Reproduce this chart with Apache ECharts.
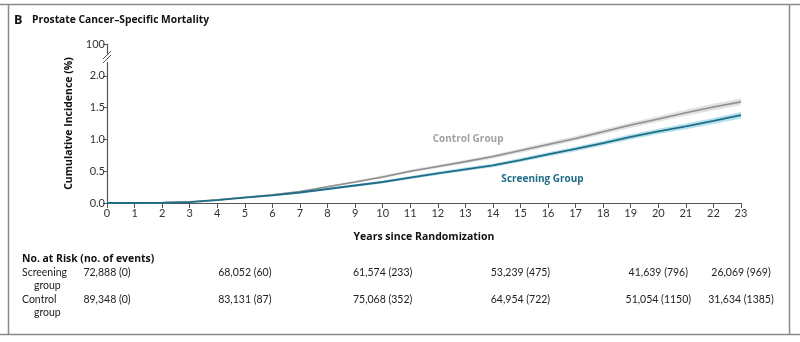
<!DOCTYPE html>
<html><head><meta charset="utf-8">
<script src="https://cdn.jsdelivr.net/npm/echarts@6/dist/echarts.min.js"></script>
<style>html,body{margin:0;padding:0;background:#fff}#c{width:800px;height:342px}</style>
</head><body><div id="c"></div>
<script>
// ---- data ----
const years = [0,1,2,3,4,5,6,7,8,9,10,11,12,13,14,15,16,17,18,19,20,21,22,23];
const controlVals   = [0,0,0.005,0.018,0.05,0.09,0.13,0.18,0.255,0.33,0.41,0.5,0.575,0.65,0.73,0.825,0.92,1.015,1.12,1.225,1.32,1.42,1.51,1.59];
const controlLow    = [0,0,0.003,0.013,0.042,0.08,0.118,0.166,0.238,0.31,0.388,0.476,0.549,0.622,0.7,0.792,0.885,0.978,1.08,1.183,1.276,1.373,1.46,1.535];
const controlHigh   = [0,0,0.007,0.023,0.058,0.1,0.142,0.194,0.272,0.35,0.432,0.524,0.601,0.678,0.76,0.858,0.955,1.052,1.16,1.267,1.364,1.467,1.56,1.645];
const screenVals    = [0,0,0.004,0.015,0.045,0.085,0.12,0.165,0.22,0.275,0.33,0.4,0.465,0.53,0.59,0.675,0.765,0.85,0.94,1.04,1.125,1.205,1.29,1.38];
const screenLow     = [0,0,0.002,0.01,0.037,0.075,0.108,0.151,0.203,0.256,0.309,0.377,0.44,0.503,0.561,0.644,0.732,0.815,0.903,1.0,1.083,1.16,1.242,1.328];
const screenHigh    = [0,0,0.006,0.02,0.053,0.095,0.132,0.179,0.237,0.294,0.351,0.423,0.49,0.557,0.619,0.706,0.798,0.885,0.977,1.08,1.167,1.25,1.338,1.432];
const yTicks = [0, 0.5, 1.0, 1.5, 2.0, 2.5];
const yTickLabels = ['0.0','0.5','1.0','1.5','2.0','100'];
const riskYears = [0,5,10,15,20,23];
const screeningRisk = ['72,888 (0)','68,052 (60)','61,574 (233)','53,239 (475)','41,639 (796)','26,069 (969)'];
const controlRisk   = ['89,348 (0)','83,131 (87)','75,068 (352)','64,954 (722)','51,054 (1150)','31,634 (1385)'];

const FONT = 'Lato';
const BFONT = 'Open Sans';
const pair = (xs, ys) => xs.map((x, i) => [x, ys[i]]);
const triple = (lo, hi) => years.map((x, i) => [x, lo[i], hi[i]]);

function bandSeries(lo, hi, color) {
  return {
    type: 'custom', silent: true, z: 1,
    data: triple(lo, hi),
    encode: {x: 0, y: [1, 2]},
    renderItem: (params, api) => {
      if (params.dataIndex !== 0) return;
      const pts = [];
      for (let i = 0; i < years.length; i++) pts.push(api.coord([years[i], hi[i]]));
      for (let i = years.length - 1; i >= 0; i--) pts.push(api.coord([years[i], lo[i]]));
      return {type: 'polygon', shape: {points: pts}, style: {fill: color}};
    }
  };
}

const chart = echarts.init(document.getElementById('c'), null, {renderer: 'canvas'});
const option = {
  animation: false,
  textStyle: {fontFamily: FONT},
  grid: {left: 107, right: 59, top: 44, bottom: 139, containLabel: false},
  xAxis: {
    type: 'value', min: 0, max: 23, interval: 1,
    name: 'Years since Randomization', nameLocation: 'middle', nameGap: 29,
    nameTextStyle: {fontFamily: BFONT, fontWeight: 'bold', fontSize: 10.5, color: '#111'},
    axisLine: {lineStyle: {color: '#555', width: 1.2}},
    axisTick: {length: 5, lineStyle: {color: '#555'}},
    axisLabel: {fontFamily: FONT, fontSize: 11, color: '#333', margin: 5},
    splitLine: {show: false}
  },
  yAxis: {
    type: 'value', min: 0, max: 2.5, interval: 0.5,
    name: 'Cumulative Incidence (%)', nameLocation: 'middle', nameGap: 32,
    nameTextStyle: {fontFamily: BFONT, fontWeight: 'bold', fontSize: 10.5, color: '#111'},
    axisLine: {show: true, lineStyle: {color: '#555', width: 1.2}},
    axisTick: {show: true, length: 4, lineStyle: {color: '#555'}},
    axisLabel: {fontFamily: FONT, fontSize: 11, color: '#333', margin: 2,
      formatter: v => { const i = yTicks.findIndex(t => Math.abs(t - v) < 1e-9); return i >= 0 ? yTickLabels[i] : ''; }},
    splitLine: {show: false}
  },
  series: [
    bandSeries(controlLow, controlHigh, 'rgba(205,205,205,0.6)'),
    bandSeries(screenLow, screenHigh, 'rgba(150,212,225,0.7)'),
    {type: 'line', name: 'Control Group', z: 3, data: pair(years, controlVals), symbol: 'none', lineStyle: {color: '#8f8f8f', width: 1.6}},
    {type: 'line', name: 'Screening Group', z: 4, data: pair(years, screenVals), symbol: 'none', lineStyle: {color: '#1f6d88', width: 1.8}}
  ]
};
chart.setOption(option);

// ---- decorations & annotations ----
const px = (x, y) => chart.convertToPixel({gridIndex: 0}, [x, y]);
const g = [];
const border = '#8a8a8a';
g.push({type: 'line', shape: {x1: 0, y1: 4.5, x2: 800, y2: 4.5}, style: {stroke: border, lineWidth: 1.5}});
g.push({type: 'line', shape: {x1: 0, y1: 334.5, x2: 800, y2: 334.5}, style: {stroke: border, lineWidth: 1.5}});
g.push({type: 'line', shape: {x1: 8.5, y1: 4.5, x2: 8.5, y2: 334.5}, style: {stroke: border, lineWidth: 1.5}});
g.push({type: 'line', shape: {x1: 789.5, y1: 4.5, x2: 789.5, y2: 334.5}, style: {stroke: border, lineWidth: 1.5}});
g.push({type: 'text', x: 14, y: 20, style: {text: 'B', font: 'bold 12.5px ' + BFONT, fill: '#111', verticalAlign: 'middle'}});
g.push({type: 'text', x: 32, y: 20, style: {text: 'Prostate Cancer\u2013Specific Mortality', font: 'bold 10.3px ' + BFONT, fill: '#111', verticalAlign: 'middle'}});

// axis break marks
const b = px(0, 2.28);
g.push({type: 'rect', shape: {x: b[0] - 2, y: b[1] - 4, width: 4, height: 8}, style: {fill: '#fff'}, z: 100});
g.push({type: 'line', shape: {x1: b[0] - 4, y1: b[1] + 1, x2: b[0] + 4, y2: b[1] - 7}, style: {stroke: '#555', lineWidth: 1}, z: 101});
g.push({type: 'line', shape: {x1: b[0] - 4, y1: b[1] + 5, x2: b[0] + 4, y2: b[1] - 3}, style: {stroke: '#555', lineWidth: 1}, z: 101});

// curve labels
const cl = px(13.1, 1.01);
g.push({type: 'text', x: cl[0], y: cl[1], style: {text: 'Control Group', font: 'bold 10px ' + BFONT, fill: '#a3a3a3', align: 'center', verticalAlign: 'middle'}});
const sl = px(15.8, 0.38);
g.push({type: 'text', x: sl[0], y: sl[1], style: {text: 'Screening Group', font: 'bold 10px ' + BFONT, fill: '#1f6d88', align: 'center', verticalAlign: 'middle'}});

// risk table
g.push({type: 'text', x: 22, y: 259, style: {text: 'No. at Risk (no. of events)', font: 'bold 10.4px ' + BFONT, fill: '#111', verticalAlign: 'middle'}});
const rowFont = '10.5px ' + FONT;
g.push({type: 'text', x: 22, y: 273, style: {text: 'Screening', font: rowFont, fill: '#222', verticalAlign: 'middle'}});
g.push({type: 'text', x: 34, y: 286, style: {text: 'group', font: rowFont, fill: '#222', verticalAlign: 'middle'}});
g.push({type: 'text', x: 22, y: 300, style: {text: 'Control', font: rowFont, fill: '#222', verticalAlign: 'middle'}});
g.push({type: 'text', x: 34, y: 313, style: {text: 'group', font: rowFont, fill: '#222', verticalAlign: 'middle'}});
riskYears.forEach((yr, i) => {
  const xx = px(yr, 0)[0];
  g.push({type: 'text', x: xx, y: 273, style: {text: screeningRisk[i], font: rowFont, fill: '#222', align: 'center', verticalAlign: 'middle'}});
  g.push({type: 'text', x: xx, y: 300, style: {text: controlRisk[i], font: rowFont, fill: '#222', align: 'center', verticalAlign: 'middle'}});
});
chart.setOption({graphic: g});
</script>
</body></html>
